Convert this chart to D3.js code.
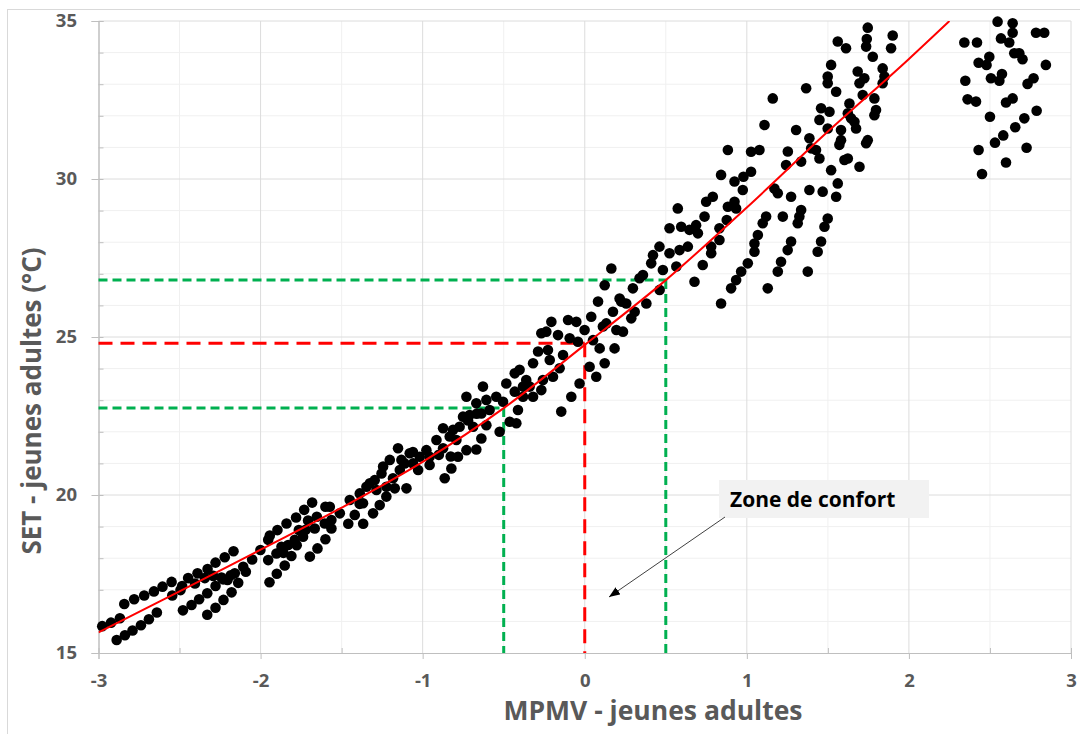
<!DOCTYPE html>
<html>
<head>
<meta charset="utf-8">
<script src="https://cdn.jsdelivr.net/npm/d3@7/dist/d3.min.js"></script>
<style>
body { margin: 0; background: #fff; }
svg text { font-family: "Open Sans", sans-serif; font-weight: bold; }
</style>
</head>
<body>
<div id="chart"></div>
<script>
var mpmv = [
  -2.977, -2.923, -2.868, -2.841, -2.780, -2.718, -2.658, -2.605, -2.549, -2.545, -2.494, -2.447, -2.389, -2.327, -2.278, -2.221, -2.167,
  -2.888, -2.837, -2.790, -2.738, -2.689, -2.640,
  -2.479, -2.426, -2.379, -2.329, -2.278, -2.231, -2.184, -2.159, -2.107, -2.091, -2.052, -2.001,
  -2.329, -2.278, -2.229, -2.179, -2.138,
  -2.405, -2.344, -2.292, -2.241, -2.204, -2.484,
  -1.953, -1.945, -1.900, -1.851, -1.810, -1.953, -1.943, -1.896, -1.840, -1.781, -1.731, -1.682, -1.600, -1.653,
  -1.707, -1.764, -1.789, -1.830, -1.871, -1.902, -1.859, -1.738, -1.666, -1.604, -1.563, -1.696, -1.649, -1.600, -1.563,
  -1.573, -1.511, -1.419, -1.368, -1.306, -1.265, -1.224, -1.172, -1.100, -1.028, -0.957, -0.864, -0.823, -0.782, -0.730, -0.669,
  -0.638, -0.607, -0.525, -0.463, -0.422, -0.412, -0.381, -0.340,
  -1.450, -1.388, -1.347, -1.296, -1.254, -1.244, -1.203, -1.152, -1.131, -1.080, -1.059, -1.018, -0.977, -0.957, -0.915, -0.874,
  -0.874, -0.833, -0.813, -0.792, -0.772, -0.751, -0.730, -0.710, -0.689, -0.669, -0.628, -0.638, -0.607, -0.587, -0.546, -0.504,
  -0.484, -0.432, -0.402, -0.361, -0.432, -0.381, -1.326, -1.285, -1.224, -1.183, -1.141, -1.111,
  -1.367, -1.459, -1.060, -0.900, -0.827, -0.720, -0.667, -1.777, -1.722, -1.389,
  -0.319, -0.319, -0.288, -0.268, -0.258, -0.268, -0.237, -0.227, -0.216, -0.206, -0.196, -0.165, -0.155, -0.145, -0.134, -0.103,
  -0.093, -0.083, -0.052, -0.042, -0.032, -0.001, 0.030, 0.040, 0.051, 0.071, 0.082, 0.092, 0.112, 0.123, 0.133, 0.123,
  0.164, 0.174, 0.184, 0.195, 0.215, 0.225, 0.236, 0.256, 0.287, 0.297, 0.308, 0.338, 0.359, 0.380, 0.421, 0.410,
  0.462, 0.482, 0.523, 0.565,
  0.461, 0.523, 0.574, 0.585, 0.595, 0.636, 0.646, 0.687, 0.677, 0.698, 0.728, 0.739, 0.749, 0.780, 0.780, 0.790,
  0.831, 0.831, 0.841, 0.883, 0.883, 0.876, 0.924, 0.924, 0.934, 0.975, 0.979, 1.026, 0.841, 0.903, 0.934, 0.965,
  1.006, 1.047, 1.047, 1.068, 1.129, 1.026, 1.119, 1.098, 1.222, 1.191, 1.211, 1.252, 1.273, 1.314, 1.324, 1.335,
  1.376, 1.437, 1.458, 1.479, 1.499,
  1.160, 1.109, 1.078, 1.170, 1.191, 1.273, 1.366, 1.386, 1.468, 1.561, 1.551, 1.304, 1.253, 1.242, 1.335, 1.386,
  1.397, 1.427, 1.448, 1.458, 1.448, 1.510, 1.499, 1.499, 1.499, 1.520, 1.551, 1.561, 1.612, 1.520, 1.571, 1.581,
  1.581, 1.602, 1.623, 1.633, 1.623, 1.643, 1.664, 1.674, 1.695, 1.695, 1.684, 1.725, 1.715, 1.736, 1.740, 1.746,
  1.777, 1.787, 1.797, 1.787, 1.746, 1.736, 1.838, 1.849, 1.838, 1.900, 1.890,
  2.547, 2.640, 2.640, 2.568, 2.619, 2.784, 2.835, 2.342, 2.420, 2.496, 2.430, 2.479, 2.650, 2.681, 2.701, 2.845,
  2.348, 2.506, 2.558, 2.574, 2.732, 2.769, 2.362, 2.414, 2.599, 2.640, 2.500, 2.712, 2.788, 2.656, 2.582, 2.531,
  2.430, 2.726, 2.599, 2.451
];
var setValues = [
  15.85, 15.96, 16.10, 16.55, 16.70, 16.82, 16.95, 17.10, 17.25, 16.82, 16.99, 17.37, 17.52, 17.66, 17.86, 18.03, 18.22,
  15.41, 15.56, 15.71, 15.88, 16.07, 16.28,
  16.35, 16.52, 16.70, 16.89, 17.12, 17.33, 17.46, 17.52, 17.73, 17.57, 17.96, 18.26,
  16.21, 16.43, 16.68, 16.92, 17.22,
  17.20, 17.37, 17.44, 17.39, 17.31, 17.12,
  17.94, 17.24, 17.51, 17.77, 18.07, 18.58, 18.72, 18.89, 19.10, 19.29, 19.53, 19.76, 19.63, 19.31,
  19.19, 18.89, 18.58, 18.42, 18.36, 18.15, 18.17, 18.68, 18.94, 19.10, 19.21, 18.05, 18.31, 18.60, 18.94,
  19.63, 19.42, 19.37, 19.74, 19.42, 19.68, 19.95, 20.21, 20.21, 20.79, 20.95, 20.53, 20.84, 21.21, 21.42, 21.44,
  21.79, 22.21, 22.00, 22.32, 22.27, 22.69, 23.11, 23.43,
  19.84, 20.05, 20.26, 20.47, 20.68, 20.90, 21.11, 21.48, 21.11, 21.32, 21.00, 21.21, 21.42, 21.21, 21.74, 22.11,
  21.48, 21.85, 22.06, 21.74, 22.16, 22.48, 23.11, 22.53, 22.16, 22.90, 23.43, 22.58, 23.01, 22.69, 23.11, 22.95,
  23.53, 23.85, 23.96, 23.64, 23.27, 23.43, 20.37, 20.16, 20.26, 20.53, 20.79, 21.00,
  19.09, 19.09, 21.36, 21.27, 21.22, 22.36, 22.57, 18.41, 18.90, 19.72,
  24.17, 23.11, 24.54, 23.32, 23.64, 25.12, 25.17, 24.59, 24.27, 25.48, 23.74, 25.06, 24.01, 22.64, 24.43, 25.54,
  24.96, 23.11, 25.48, 24.85, 23.53, 25.22, 24.06, 25.64, 24.90, 23.74, 26.12, 24.64, 25.33, 26.64, 25.43, 24.17,
  27.17, 25.80, 24.64, 25.22, 26.22, 26.12, 25.17, 26.06, 25.59, 26.54, 25.80, 26.86, 26.96, 26.06, 27.59, 27.33,
  26.49, 27.12, 27.65, 27.23,
  27.86, 28.44, 29.07, 27.75, 28.49, 27.86, 28.39, 28.54, 26.75, 28.28, 27.28, 28.81, 29.28, 27.65, 27.86, 29.44,
  28.44, 28.07, 30.13, 30.92, 29.12, 28.70, 29.92, 29.28, 29.07, 29.65, 30.07, 30.23, 26.06, 26.54, 26.80, 27.07,
  27.33, 27.70, 27.96, 28.23, 26.54, 30.86, 28.81, 28.60, 28.81, 27.07, 27.38, 27.75, 28.02, 28.60, 28.81, 29.02,
  27.07, 27.70, 28.02, 28.49, 28.75,
  32.55, 31.71, 30.92, 29.70, 29.55, 29.44, 32.87, 29.65, 29.60, 29.86, 29.44, 31.55, 30.87, 30.44, 30.55, 31.29,
  30.97, 30.92, 30.65, 32.24, 31.87, 32.13, 31.60, 33.24, 33.03, 33.61, 32.76, 34.35, 34.14, 30.28, 31.08, 31.23,
  31.55, 30.60, 30.65, 32.39, 32.08, 31.92, 31.81, 31.60, 30.39, 33.03, 33.40, 33.19, 32.66, 34.19, 34.43, 34.79,
  33.87, 32.55, 32.18, 32.02, 31.23, 31.13, 33.50, 33.24, 33.03, 34.54, 34.14,
  34.98, 34.93, 34.63, 34.45, 34.32, 34.63, 34.63, 34.32, 34.32, 33.87, 33.68, 33.61, 33.98, 33.98, 33.79, 33.61,
  33.11, 33.19, 33.11, 33.32, 33.01, 33.19, 32.52, 32.45, 32.42, 32.55, 31.97, 31.92, 32.16, 31.64, 31.38, 31.15,
  30.92, 30.99, 30.52, 30.16
];

// fitted trend curve, read at regular MPMV steps
var fitPmv = [-3, -2.5, -2, -1.5, -1, -0.5, 0, 0.5, 1, 1.5, 2, 2.25];
var fitSet = [15.65, 16.95, 18.27, 19.6, 21.05, 22.75, 24.75, 26.8, 29.1, 31.5, 33.8, 35.0];

// comfort zone guides (green = bounds, red = neutral)
var comfortPmv = [-0.5, 0, 0.5];
var comfortSet = [22.75, 24.8, 26.8];
var comfortColor = ['#00b050', '#ff0000', '#00b050'];

var xTicks = [-3, -2, -1, 0, 1, 2, 3];
var yTicks = [15, 20, 25, 30, 35];

var svgWidth = 1080;
var svgHeight = 734;
var plotLeft = 98.5, plotRight = 1071, plotTop = 21, plotBottom = 653;

var svg = d3.select('#chart')
    .append('svg')
    .attr('width', svgWidth)
    .attr('height', svgHeight);

// chart frame
svg.append('rect')
    .attr('x', 7.5).attr('y', 9.5)
    .attr('width', 1090).attr('height', 740)
    .attr('fill', 'none')
    .attr('stroke', '#d9d9d9');

var x = d3.scaleLinear().domain([-3, 3]).range([plotLeft, plotRight]);
var y = d3.scaleLinear().domain([15, 35]).range([plotBottom, plotTop]);

// grid
var grid = svg.append('g');
grid.selectAll('.vminor')
    .data(d3.range(-2.5, 3, 1))
    .enter().append('line')
    .attr('x1', x).attr('x2', x)
    .attr('y1', plotTop).attr('y2', plotBottom)
    .attr('stroke', '#f0f0f0');
grid.selectAll('.hminor')
    .data(d3.range(16, 35).filter(function(d) { return d % 5 !== 0; }))
    .enter().append('line')
    .attr('x1', plotLeft).attr('x2', plotRight)
    .attr('y1', y).attr('y2', y)
    .attr('stroke', '#f0f0f0');
grid.selectAll('.vmajor')
    .data(xTicks.slice(1))
    .enter().append('line')
    .attr('x1', x).attr('x2', x)
    .attr('y1', plotTop).attr('y2', plotBottom)
    .attr('stroke', '#dcdcdc');
grid.selectAll('.hmajor')
    .data(yTicks.slice(1))
    .enter().append('line')
    .attr('x1', plotLeft).attr('x2', plotRight)
    .attr('y1', y).attr('y2', y)
    .attr('stroke', '#dcdcdc');

// axes
function fmt(d) { return String(d); }

svg.append('g')
    .attr('transform', 'translate(' + plotLeft + ',0)')
    .call(d3.axisLeft(y).tickValues(yTicks).tickSize(7).tickPadding(14.5).tickFormat(fmt));
svg.append('g')
    .attr('transform', 'translate(' + plotLeft + ',0)')
    .call(d3.axisLeft(y).tickValues(d3.range(15, 36)).tickSize(-5).tickFormat(''));
svg.append('g')
    .attr('transform', 'translate(0,' + plotBottom + ')')
    .call(d3.axisBottom(x).tickValues(xTicks).tickSize(6).tickPadding(15).tickFormat(fmt));
svg.append('g')
    .attr('transform', 'translate(0,' + plotBottom + ')')
    .call(d3.axisBottom(x).tickValues(d3.range(-2.5, 3, 1)).tickSize(-5).tickFormat(''));

svg.selectAll('.domain').attr('stroke', '#bfbfbf');
svg.selectAll('.tick line').attr('stroke', '#bfbfbf');
svg.selectAll('.tick text')
    .attr('fill', '#595959')
    .style('font-size', '18.5px');

// comfort guides
var guides = svg.append('g');
comfortPmv.forEach(function(p, i) {
    var dash = comfortColor[i] === '#ff0000' ? '14,8' : '9,5';
    guides.append('line')
        .attr('x1', x(-3)).attr('x2', x(p))
        .attr('y1', y(comfortSet[i])).attr('y2', y(comfortSet[i]))
        .attr('stroke', comfortColor[i]).attr('stroke-width', 3)
        .attr('stroke-dasharray', dash);
    guides.append('line')
        .attr('x1', x(p)).attr('x2', x(p))
        .attr('y1', y(comfortSet[i])).attr('y2', y(15))
        .attr('stroke', comfortColor[i]).attr('stroke-width', 3)
        .attr('stroke-dasharray', dash);
});

// scatter
var points = mpmv.map(function(d, i) { return [d, setValues[i]]; });
svg.append('g')
    .selectAll('circle')
    .data(points)
    .enter()
    .append('circle')
    .attr('cx', function(d) { return x(d[0]); })
    .attr('cy', function(d) { return y(d[1]); })
    .attr('r', 5.3)
    .attr('fill', '#000');

// trend curve
var defs = svg.append('defs');
defs.append('clipPath').attr('id', 'plot')
    .append('rect')
    .attr('x', plotLeft).attr('y', plotTop)
    .attr('width', plotRight - plotLeft).attr('height', plotBottom - plotTop);

var line = d3.line()
    .x(function(d) { return x(d[0]); })
    .y(function(d) { return y(d[1]); })
    .curve(d3.curveMonotoneX);

svg.append('path')
    .datum(fitPmv.map(function(d, i) { return [d, fitSet[i]]; }))
    .attr('d', line)
    .attr('clip-path', 'url(#plot)')
    .attr('fill', 'none')
    .attr('stroke', '#ff0000')
    .attr('stroke-width', 2);

// annotation
defs.append('marker')
    .attr('id', 'arrow')
    .attr('viewBox', '0 0 10 8')
    .attr('refX', 10).attr('refY', 4)
    .attr('markerWidth', 11).attr('markerHeight', 8.8)
    .attr('orient', 'auto')
    .append('path')
    .attr('d', 'M0,0 L10,4 L0,8 z')
    .attr('fill', '#000');

svg.append('rect')
    .attr('x', 719).attr('y', 480)
    .attr('width', 210).attr('height', 38)
    .attr('fill', '#f2f2f2');
svg.append('text')
    .attr('x', 730).attr('y', 507)
    .attr('fill', '#000')
    .style('font-size', '21px')
    .text('Zone de confort');
svg.append('line')
    .attr('x1', 725).attr('y1', 517)
    .attr('x2', 609).attr('y2', 597)
    .attr('stroke', '#404040')
    .attr('stroke-width', 1)
    .attr('marker-end', 'url(#arrow)');

// axis titles
svg.append('text')
    .attr('x', 653).attr('y', 720)
    .attr('text-anchor', 'middle')
    .attr('fill', '#595959')
    .style('font-size', '26.5px')
    .text('MPMV - jeunes adultes');
svg.append('text')
    .attr('transform', 'translate(41,401) rotate(-90)')
    .attr('text-anchor', 'middle')
    .attr('fill', '#595959')
    .style('font-size', '26px')
    .text('SET  - jeunes adultes (°C)');
</script>
</body>
</html>
